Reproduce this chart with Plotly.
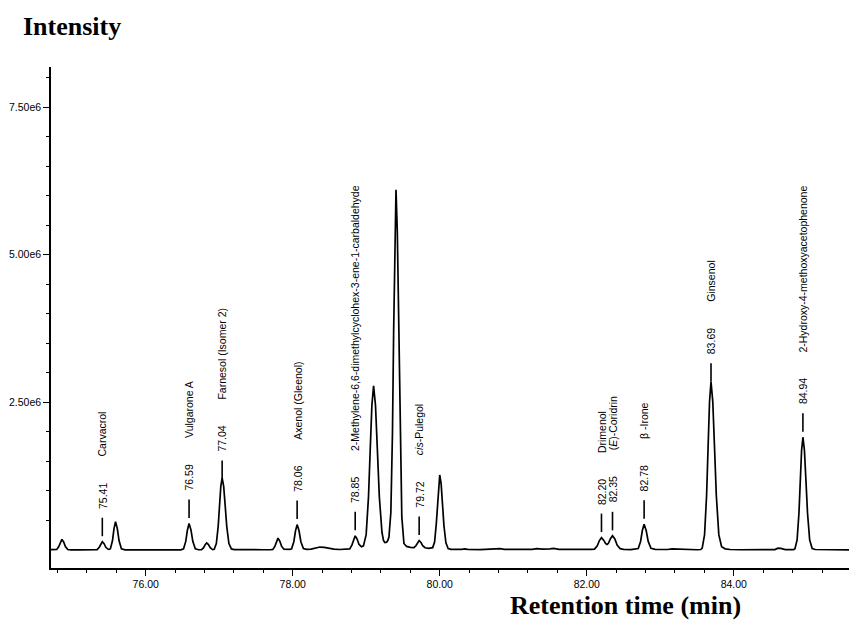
import numpy as np
import plotly.graph_objects as go

# ---- chromatogram trace (retention time in min, intensity in 1e6 counts) ----
rt_min = [
    74.712, 74.760,
    74.790, 74.818, 74.839, 74.860, 74.884, 74.908, 74.940,
    74.980, 75.100, 75.250, 75.300,
    75.340, 75.368, 75.389, 75.410, 75.434, 75.458, 75.490, 75.505,
    75.520, 75.548, 75.569, 75.590, 75.614, 75.638, 75.670, 75.720,
    75.800, 76.000, 76.200, 76.400, 76.480,
    76.515, 76.545, 76.568, 76.590, 76.616, 76.641, 76.675, 76.720,
    76.760, 76.788, 76.809, 76.830, 76.854, 76.878, 76.910,
    76.932, 76.961, 76.986, 77.004, 77.022, 77.040, 77.061, 77.082, 77.103, 77.132, 77.166, 77.208,
    77.300, 77.450, 77.600, 77.700,
    77.730, 77.758, 77.779, 77.800, 77.824, 77.848, 77.880, 77.920, 77.960,
    77.985, 78.015, 78.038, 78.060, 78.086, 78.111, 78.145, 78.190,
    78.250, 78.310, 78.370, 78.430, 78.490, 78.560, 78.640, 78.720, 78.760,
    78.775, 78.805, 78.828, 78.850, 78.876, 78.901, 78.935,
    78.962, 78.999, 79.031, 79.054, 79.077, 79.100, 79.126, 79.152, 79.178, 79.214, 79.235, 79.255,
    79.277, 79.293, 79.309, 79.335, 79.357, 79.373, 79.389, 79.405, 79.423, 79.441, 79.459, 79.484,
    79.513, 79.549, 79.600, 79.640,
    79.650, 79.678, 79.699, 79.720, 79.744, 79.768, 79.800, 79.850,
    79.904, 79.930, 79.952, 79.968, 79.984, 80.000, 80.019, 80.038, 80.057, 80.084, 80.114, 80.152,
    80.200, 80.300, 80.340, 80.380, 80.550, 80.750, 80.820, 80.880, 81.100, 81.260, 81.320,
    81.400, 81.500, 81.550, 81.620, 81.800, 82.000, 82.060,
    82.105, 82.143, 82.172, 82.200, 82.232, 82.255, 82.275, 82.293, 82.322, 82.350, 82.382, 82.413,
    82.455, 82.500, 82.600, 82.660,
    82.700, 82.732, 82.756, 82.780, 82.808, 82.836, 82.873, 82.930,
    83.000, 83.100, 83.160, 83.200, 83.260, 83.400, 83.500,
    83.550, 83.570, 83.602, 83.630, 83.650, 83.670, 83.690, 83.714, 83.738, 83.762, 83.796, 83.834,
    83.882, 83.950,
    84.100, 84.300, 84.500, 84.560, 84.600, 84.640, 84.700, 84.780,
    84.814, 84.832, 84.861, 84.886, 84.904, 84.922, 84.940, 84.961, 84.982, 85.003, 85.032, 85.066,
    85.108, 85.200, 85.350, 85.500, 85.567,
]
intensity_e6 = [
    0.005, 0.004,
    0.008, 0.059, 0.136, 0.180, 0.136, 0.059, 0.008,
    0.003, 0.002, 0.003, 0.002,
    0.006, 0.046, 0.106, 0.140, 0.106, 0.046, 0.012, 0.010,
    0.021, 0.156, 0.362, 0.480, 0.362, 0.156, 0.021, 0.003,
    0.002, 0.001, 0.002, 0.001, 0.003,
    0.020, 0.146, 0.340, 0.450, 0.340, 0.146, 0.020, 0.004,
    0.006, 0.039, 0.091, 0.120, 0.091, 0.039, 0.006,
    0.013, 0.109, 0.397, 0.741, 1.076, 1.220, 1.076, 0.741, 0.397, 0.109, 0.018, 0.006,
    0.003, 0.002, 0.004, 0.004,
    0.009, 0.065, 0.151, 0.200, 0.151, 0.065, 0.012, 0.008, 0.010,
    0.019, 0.140, 0.325, 0.430, 0.325, 0.140, 0.025, 0.010,
    0.014, 0.035, 0.050, 0.045, 0.030, 0.014, 0.008, 0.010, 0.014,
    0.018, 0.082, 0.185, 0.240, 0.185, 0.095, 0.055,
    0.070, 0.260, 0.904, 1.687, 2.452, 2.780, 2.452, 1.687, 0.904, 0.300, 0.160, 0.125,
    0.130, 0.160, 0.220, 0.640, 1.983, 3.703, 5.380, 6.100, 5.380, 3.703, 1.983, 0.560,
    0.110, 0.060, 0.045, 0.040,
    0.040, 0.075, 0.128, 0.160, 0.128, 0.073, 0.038, 0.028,
    0.040, 0.135, 0.430, 0.780, 1.125, 1.270, 1.120, 0.771, 0.413, 0.120, 0.025, 0.012,
    0.008, 0.012, 0.020, 0.010, 0.006, 0.010, 0.022, 0.010, 0.006, 0.012, 0.024,
    0.014, 0.018, 0.026, 0.010, 0.006, 0.008, 0.010,
    0.015, 0.072, 0.160, 0.210, 0.163, 0.110, 0.095, 0.110, 0.190, 0.240, 0.186, 0.085,
    0.022, 0.010, 0.006, 0.010,
    0.025, 0.145, 0.330, 0.435, 0.330, 0.145, 0.028, 0.010,
    0.006, 0.008, 0.020, 0.018, 0.006, 0.004, 0.004,
    0.008, 0.031, 0.254, 0.926, 1.730, 2.514, 2.850, 2.514, 1.730, 0.926, 0.260, 0.055,
    0.020, 0.008,
    0.004, 0.003, 0.004, 0.006, 0.030, 0.028, 0.006, 0.004,
    0.006, 0.021, 0.170, 0.621, 1.159, 1.685, 1.910, 1.685, 1.159, 0.621, 0.170, 0.025,
    0.008, 0.005, 0.003, 0.003, 0.002,
]

# ---- identified compounds ----
label_rt = [75.41, 76.59, 77.04, 78.06, 78.85, 79.72, 82.20, 82.35, 82.78, 83.69, 84.94]
label_name = [
    "Carvacrol",
    "Vulgarone A",
    "Farnesol (Isomer 2)",
    "Axenol (Gleenol)",
    "2-Methylene-6,6-dimethylcyclohex-3-ene-1-carbaldehyde",
    "<i>cis</i>-Pulegol",
    "Drimenol",
    "(<i>E</i>)-Coridrin",
    "\u03b2 -Irone",
    "Ginsenol",
    "2-Hydroxy-4-methoxyacetophenone",
]

# ---- axis ticks ----
x_major = [76.0, 78.0, 80.0, 82.0, 84.0]
x_major_text = ["76.00", "78.00", "80.00", "82.00", "84.00"]
y_major = [2.5e6, 5.0e6, 7.5e6]
y_major_text = ["2.50e6", "5.00e6", "7.50e6"]

x_minor = [round(74.8 + 0.4 * i, 2) for i in range(27)]
y_minor = [0.5e6 * i for i in range(1, 17)]

rt = np.array(rt_min)
inten = np.array(intensity_e6) * 1e6

SANS = "Arial, Liberation Sans, sans-serif"
SERIF = "Times New Roman, Liberation Serif, serif"

fig = go.Figure()
fig.add_trace(go.Scatter(
    x=rt, y=inten, mode="lines",
    line=dict(color="black", width=1.7),
    hoverinfo="skip", showlegend=False,
))

# marker tick + retention time + compound name above each identified peak
TICK_LEN = 18.5
tick_gap = {77.04: -1.0, 83.69: 0.0}
shapes = []
annotations = []
for t, name in zip(label_rt, label_name):
    apex = float(np.interp(t, rt, inten))
    gap = tick_gap.get(t, 5.5)
    shapes.append(dict(
        type="line", xref="x", yref="y", ysizemode="pixel", yanchor=apex,
        x0=t, x1=t, y0=gap, y1=gap + TICK_LEN,
        line=dict(color="black", width=1.6),
    ))
    annotations.append(dict(
        x=t, y=apex, xref="x", yref="y", text=f"{t:.2f}", textangle=-90,
        showarrow=False, xanchor="center", yanchor="bottom",
        yshift=gap + TICK_LEN + 7, font=dict(family=SANS, size=10.5, color="black"),
    ))
    annotations.append(dict(
        x=t, y=apex, xref="x", yref="y", text=name, textangle=-90,
        showarrow=False, xanchor="center", yanchor="bottom",
        yshift=gap + TICK_LEN + 59, font=dict(family=SANS, size=10.5, color="black"),
    ))

annotations.append(dict(
    x=0.0269, y=1.080, xref="paper", yref="paper", text="<b>Intensity</b>",
    showarrow=False, xanchor="center", yanchor="middle",
    font=dict(family=SERIF, size=26, color="black"),
))
annotations.append(dict(
    x=0.7193, y=-0.074, xref="paper", yref="paper", text="<b>Retention time (min)</b>",
    showarrow=False, xanchor="center", yanchor="middle",
    font=dict(family=SERIF, size=26, color="black"),
))

fig.update_layout(
    width=849, height=623,
    margin=dict(l=51, r=0, t=67, b=55),
    paper_bgcolor="white", plot_bgcolor="white",
    shapes=shapes, annotations=annotations,
    showlegend=False,
    xaxis=dict(
        range=[74.712, 85.567],
        tickmode="array", tickvals=x_major, ticktext=x_major_text,
        ticks="outside", ticklen=6, tickwidth=1.3, tickcolor="black",
        showline=True, linecolor="black", linewidth=1.5,
        showgrid=False, zeroline=False,
        tickfont=dict(family=SANS, size=10.5, color="black"),
        minor=dict(tickmode="array", tickvals=x_minor, ticks="outside",
                   ticklen=3.5, tickwidth=1.3, tickcolor="black", showgrid=False),
    ),
    yaxis=dict(
        range=[-0.305e6, 8.18e6],
        tickmode="array", tickvals=y_major, ticktext=y_major_text,
        ticks="outside", ticklen=6, tickwidth=1.3, tickcolor="black",
        showline=True, linecolor="black", linewidth=1.5,
        showgrid=False, zeroline=False,
        tickfont=dict(family=SANS, size=10.5, color="black"),
        minor=dict(tickmode="array", tickvals=y_minor, ticks="outside",
                   ticklen=3, tickwidth=1.3, tickcolor="black", showgrid=False),
    ),
)

fig.write_html("out.html")
